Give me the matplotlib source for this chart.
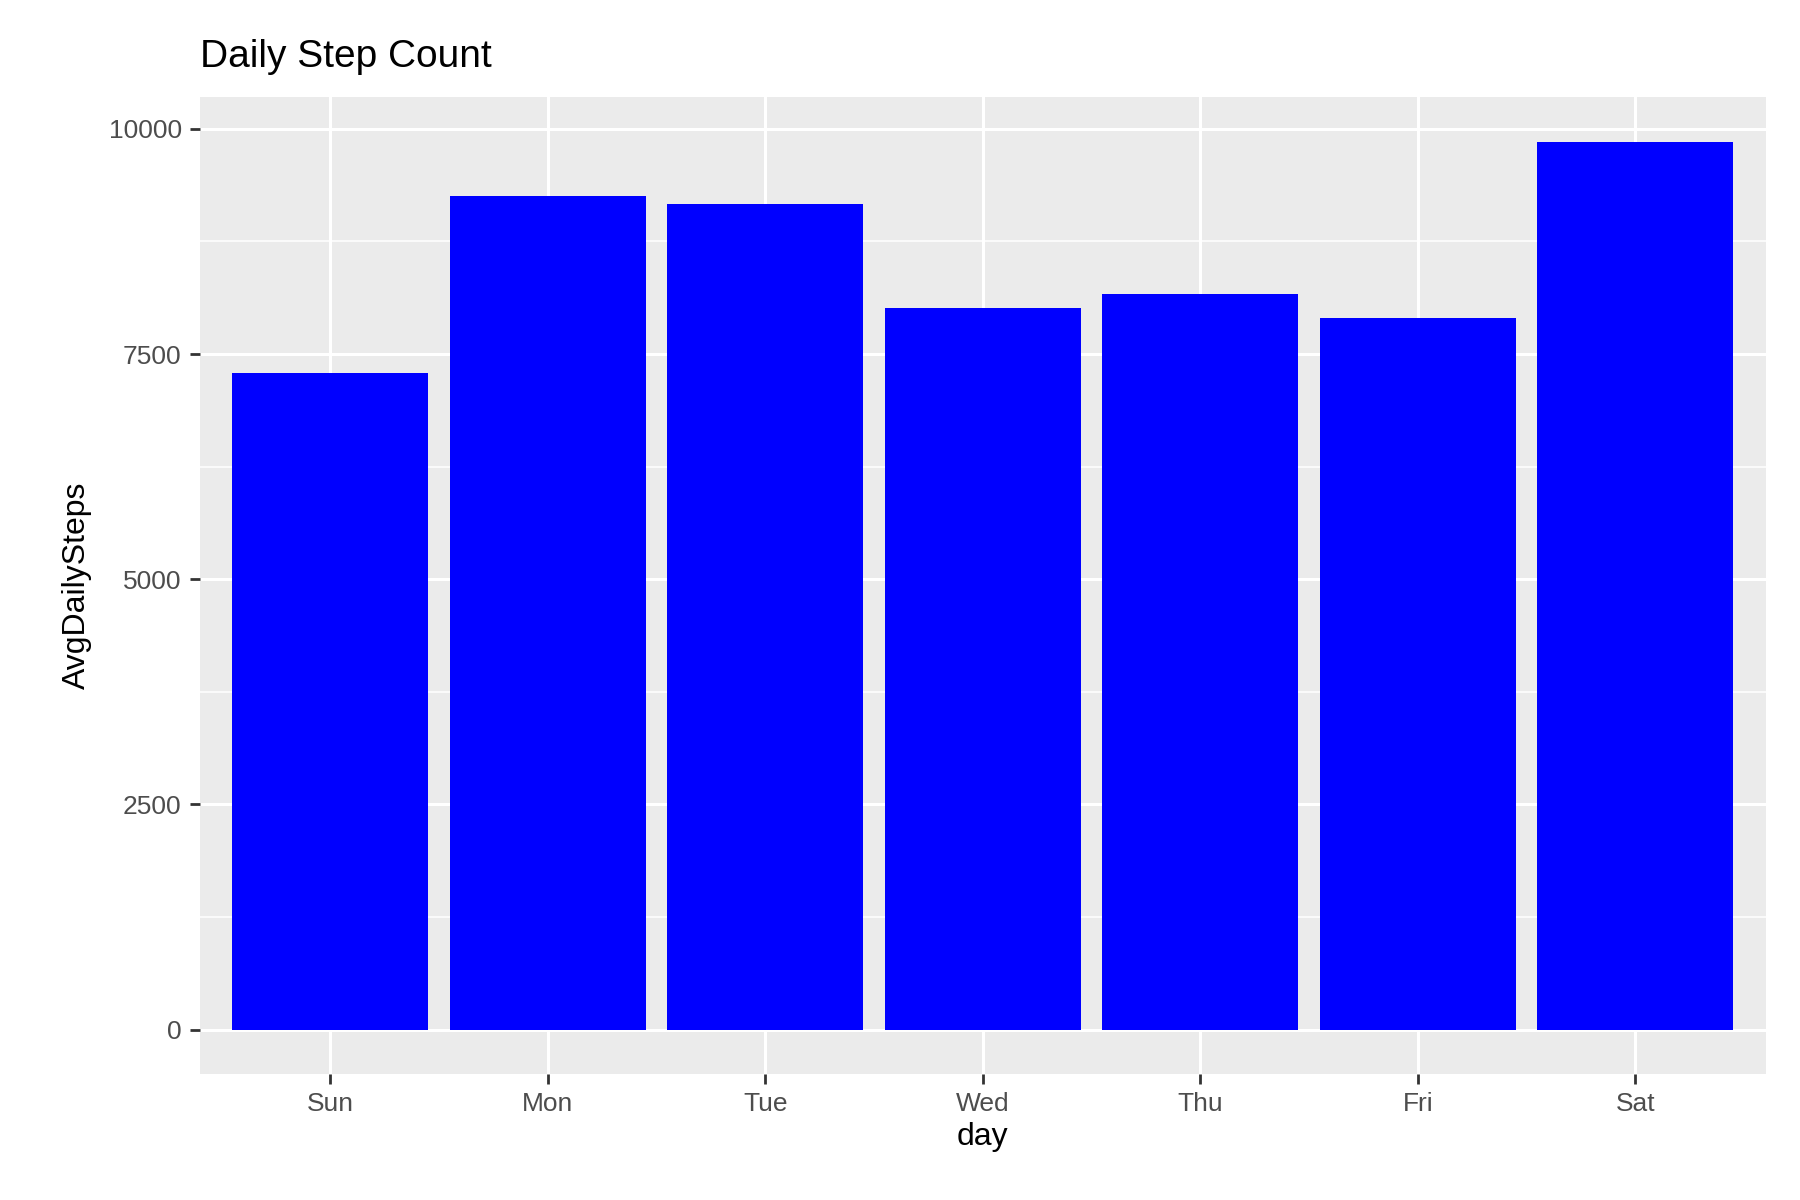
import numpy as np
import matplotlib.pyplot as plt

days = ["Sun", "Mon", "Tue", "Wed", "Thu", "Fri", "Sat"]
avg_steps = [7286, 9257, 9168, 8015, 8169, 7900, 9859]

plt.rcParams['font.family'] = ['Liberation Sans', 'DejaVu Sans']
fig = plt.figure(figsize=(18, 12), dpi=100)
ax = fig.add_axes([0.111, 0.105, 0.870, 0.814])
ax.set_facecolor("#EBEBEB")

x = np.arange(len(days))
ax.bar(x, avg_steps, width=0.9, color="blue", zorder=3)

ax.set_xlim(-0.6, len(days) - 0.4)
ax.set_ylim(-9859 * 0.05, 9859 * 1.05 + 0)
ax.set_yticks([0, 2500, 5000, 7500, 10000])
ax.set_yticks([1250, 3750, 6250, 8750], minor=True)
ax.set_xticks(x)
ax.set_xticklabels(days)
ax.grid(which="major", color="white", linewidth=2.2, zorder=0)
ax.grid(which="minor", axis="y", color="white", linewidth=1.1, zorder=0)
for s in ax.spines.values():
    s.set_visible(False)
ax.tick_params(which="major", length=7, width=2, color="#333333", labelsize=19, labelcolor="#4D4D4D", pad=6)
ax.tick_params(which="minor", length=0)

ax.set_xlabel("day", fontsize=23)
ax.set_ylabel("AvgDailySteps", fontsize=23, labelpad=12)
ax.set_title("Daily Step Count", fontsize=28, loc="left", pad=22)

fig.savefig("out.png")
